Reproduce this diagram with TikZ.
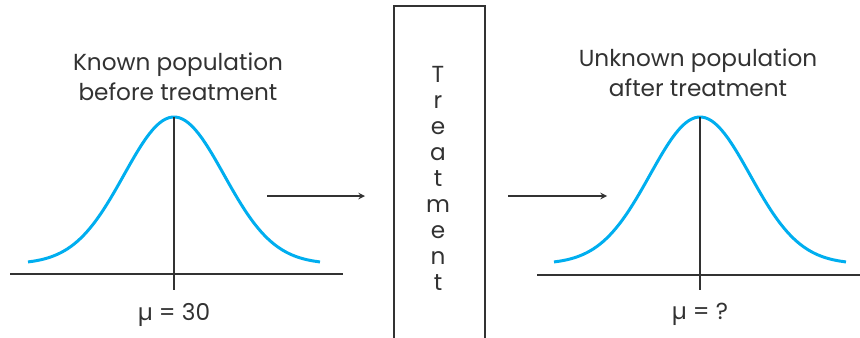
\documentclass[tikz,border=0pt]{standalone}
\usepackage{fontspec}
\setmainfont{Poppins}
\usepackage{tikz}
\usetikzlibrary{shapes,arrows,positioning,calc,fit}

\definecolor{curveblue}{RGB}{0,174,239}
\definecolor{inkgray}{RGB}{50,50,50}

\begin{document}
\begin{tikzpicture}[x=0.02cm, y=-0.02cm, font=\fontsize{13.2}{17}\selectfont, text=inkgray]
\useasboundingbox (0,0) rectangle (860,338);
\tikzset{bell/.style={curveblue, line width=1.7pt},
         axis/.style={inkgray, line width=0.7pt}}

% left population
\coordinate (peakL) at (174,117);
\coordinate (footL) at (174,290);
\draw[bell] plot[domain=-2.92:2.92, samples=90] ({174+50*\x},{264-147*exp(-(\x)^2/2)});
\draw[axis] (10,274) -- (343,274);
\draw[axis] (peakL) -- (footL);
\node[align=center] (titleL) at (178,77) {Known population\\before treatment};
\node (muL) at (174,315) {µ = 30};

% treatment box
\node[draw, rectangle, axis, minimum width=1.82cm, minimum height=8cm, anchor=north] (treat) at (439.5,5.5) {};
\node[align=center, font=\fontsize{13.2}{14.8}\selectfont] (word) at (438,178) {T\\r\\e\\a\\t\\m\\e\\n\\t};

% right population
\coordinate (peakR) at (700,117);
\coordinate (footR) at (700,290);
\draw[bell] plot[domain=-2.92:2.92, samples=90] ({700+50*\x},{264-147*exp(-(\x)^2/2)});
\draw[axis] (537,275) -- (860,275);
\draw[axis] (peakR) -- (footR);
\node[align=center] (titleR) at (698,73) {Unknown population\\after treatment};
\node (muR) at (700,314) {µ = ?};

% arrows
\coordinate (a1) at (267,196);
\coordinate (b1) at (365,196);
\coordinate (a2) at (508,196);
\coordinate (b2) at (607,196);
\draw[->, >=stealth, axis] (a1) -- (b1);
\draw[->, >=stealth, axis] (a2) -- (b2);
\end{tikzpicture}
\end{document}
